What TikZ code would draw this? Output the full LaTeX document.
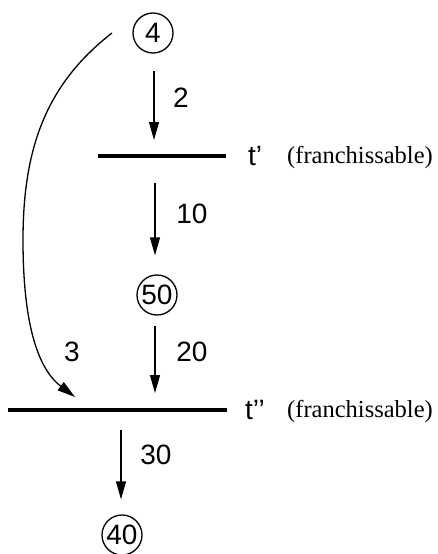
\documentclass[tikz,border=0pt]{standalone}
\usepackage{fontspec}
\setmainfont{Liberation Serif}
\newfontfamily\numfont{Liberation Sans}
\usetikzlibrary{arrows.meta}
\tikzset{
  place/.style={circle,draw,line width=1.3pt,minimum size=40pt,inner sep=0pt,font=\numfont\fontsize{28}{30}\selectfont},
  bar/.style={fill=black,minimum height=4pt,inner sep=0pt,outer sep=0pt},
  lab/.style={font=\numfont\fontsize{28}{30}\selectfont,inner sep=0pt},
  note/.style={font=\fontsize{24.5}{28}\selectfont,inner sep=0pt},
  arc/.style={line width=1.3pt,-{Triangle[length=18pt,width=10pt]}},
}
\begin{document}
\begin{tikzpicture}[x=1pt,y=-1pt]
\useasboundingbox (0,0) rectangle (437,554);
\node[place] (p4) at (153,33) {4};
\node[bar,minimum width=128pt] (t1) at (162,156) {};
\node[place] (p50) at (157,295) {50};
\node[bar,minimum width=219pt] (t2) at (117.5,410) {};
\node[place] (p40) at (122,535) {40};
\node[lab,anchor=west] (tl1) at (248,156) {t’};
\node[lab,anchor=west] (tl2) at (245,410) {t’’};
\node[note] (n1) at (360,157) {(franchissable)};
\node[note] (n2) at (360,411) {(franchissable)};
\coordinate (cs) at (112,33);
\coordinate (ce) at (75,397);
\draw[arc,shorten <=17pt,shorten >=14pt] (p4.south -| 154,0) -- (t1.north -| 154,0);
\draw[arc,shorten <=25pt,shorten >=19pt] (t1.south -| 155,0) -- (p50.north -| 155,0);
\draw[arc,shorten <=10pt,shorten >=15pt] (p50.south -| 155,0) -- (t2.north -| 155,0);
\draw[arc,shorten <=18pt,shorten >=15pt] (t2.south -| 121,0) -- (p40.north -| 121,0);
\draw[arc] (cs) .. controls (45,85) and (23,150) .. (23,240) .. controls (23,335) and (42,372) .. (ce);
\node[lab] (l2) at (181,98) {2};
\node[lab] (l10) at (192,214) {10};
\node[lab] (l20) at (192,352) {20};
\node[lab] (l3) at (72,352) {3};
\node[lab] (l30) at (156,455) {30};
\end{tikzpicture}
\end{document}
